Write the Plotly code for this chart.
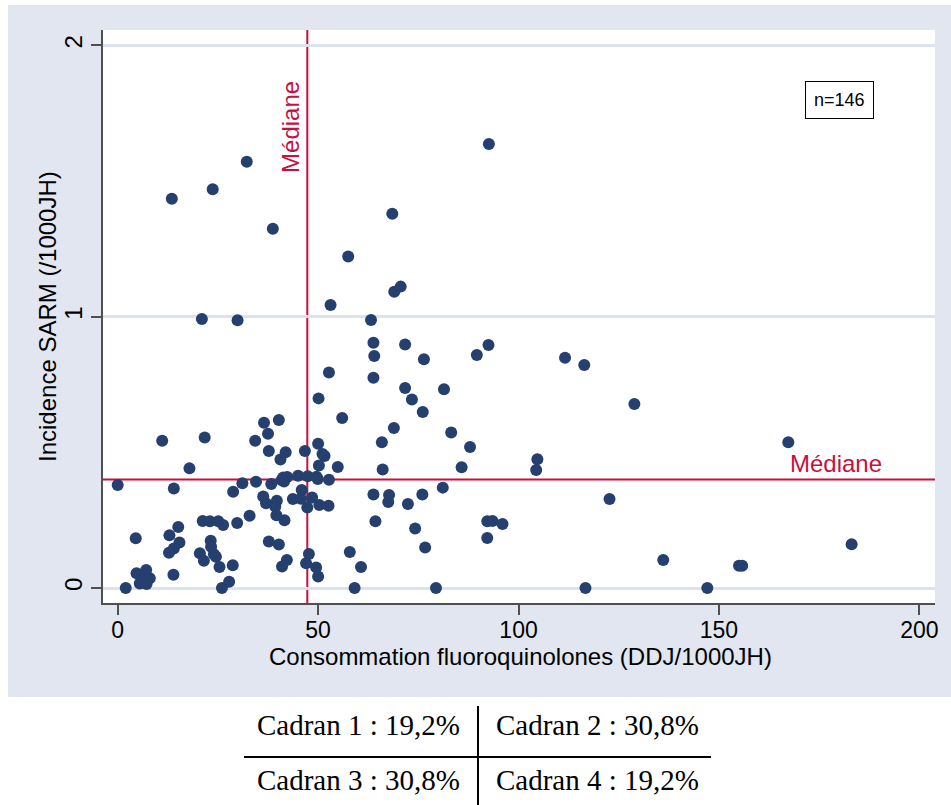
import plotly.graph_objects as go

# ---- data -----------------------------------------------------------------
# Consommation de fluoroquinolones (DDJ/1000JH) et incidence SARM (/1000JH)
consommation = [
    13.5, 23.7, 32.2, 38.7, 68.5, 57.5, 69.0, 70.6, 53.1, 21.0,
    29.9, 63.2, 63.8, 71.7, 64.0, 76.4, 89.6, 92.5, 52.7, 63.8,
    92.6, 111.6, 116.4, 128.9, 167.3, 104.7, 104.4, 71.7, 73.4, 81.4,
    50.1, 56.0, 76.1, 68.9, 83.2, 65.9, 87.9, 85.8, 66.1, 54.9,
    50.0, 46.7, 51.6, 51.1, 50.2, 36.5, 40.2, 37.5, 34.3, 37.7,
    40.6, 41.9, 11.1, 21.7, 17.9, 0.0, 14.0, 28.8, 31.1, 34.5,
    38.3, 40.9, 41.3, 42.3, 45.0, 47.4, 49.6, 49.9, 52.7, 45.9,
    81.1, 63.8, 67.7, 67.5, 76.0, 72.4, 64.3, 74.2, 92.2, 93.5,
    96.0, 92.2, 122.7, 36.3, 37.0, 39.7, 39.3, 43.7, 45.7, 48.5,
    47.3, 50.3, 52.6, 39.6, 41.6, 32.9, 29.8, 21.2, 23.0, 25.1,
    26.3, 15.1, 4.5, 12.9, 15.4, 14.0, 12.8, 23.2, 23.3, 20.5,
    21.5, 24.0, 24.5, 25.4, 28.7, 37.7, 40.2, 41.0, 42.2, 47.7,
    47.0, 49.5, 50.0, 13.9, 2.0, 4.7, 7.1, 8.0, 5.5, 7.2,
    6.1, 26.0, 27.8, 57.9, 60.7, 59.1, 79.4, 76.7, 183.1, 136.1,
    155.0, 155.8, 116.7, 147.1, 41.5, 6.6,
]
incidence = [
    1.435, 1.470, 1.571, 1.324, 1.380, 1.222, 1.092, 1.111, 1.043, 0.992,
    0.987, 0.988, 0.904, 0.898, 0.855, 0.843, 0.859, 0.896, 0.794, 0.775,
    1.637, 0.849, 0.822, 0.678, 0.537, 0.475, 0.435, 0.737, 0.695, 0.733,
    0.699, 0.627, 0.649, 0.590, 0.573, 0.537, 0.520, 0.445, 0.437, 0.446,
    0.532, 0.505, 0.487, 0.494, 0.452, 0.609, 0.619, 0.569, 0.543, 0.505,
    0.474, 0.500, 0.543, 0.555, 0.441, 0.380, 0.367, 0.355, 0.386, 0.392,
    0.383, 0.398, 0.407, 0.409, 0.414, 0.412, 0.410, 0.402, 0.399, 0.361,
    0.370, 0.345, 0.343, 0.317, 0.345, 0.310, 0.246, 0.219, 0.246, 0.247,
    0.236, 0.184, 0.328, 0.337, 0.312, 0.322, 0.300, 0.328, 0.329, 0.334,
    0.297, 0.306, 0.303, 0.268, 0.250, 0.266, 0.240, 0.247, 0.246, 0.246,
    0.232, 0.225, 0.183, 0.194, 0.168, 0.146, 0.130, 0.174, 0.152, 0.128,
    0.100, 0.124, 0.115, 0.077, 0.084, 0.171, 0.160, 0.079, 0.103, 0.125,
    0.091, 0.076, 0.042, 0.049, 0.000, 0.054, 0.066, 0.036, 0.017, 0.015,
    0.029, 0.000, 0.023, 0.133, 0.077, 0.000, 0.000, 0.149, 0.161, 0.103,
    0.082, 0.082, 0.000, 0.000, 0.393, 0.022,
]

median_x = 47.3
median_y = 0.40
x_ticks = [0, 50, 100, 150, 200]
y_ticks = [0, 1, 2]
x_title = "Consommation fluoroquinolones (DDJ/1000JH)"
y_title = "Incidence SARM (/1000JH)"
median_label = "Médiane"
n_label = "n=146"
cadrans = ["Cadran 1 : 19,2%", "Cadran 2 : 30,8%",
           "Cadran 3 : 30,8%", "Cadran 4 : 19,2%"]

# ---- geometry / styling ---------------------------------------------------
W, H = 951, 805
ML, MR, MT, MB = 103, 16, 30, 202
PW, PH = W - ML - MR, H - MT - MB


def px(xp):
    return (xp - ML) / PW


def py(yp):
    return (H - MB - yp) / PH


NAVY = "#253f6e"
RED = "#c8103e"
BG = "#e1e6f0"
GRID = "#dce3ee"
AXIS = "#505050"
SANS = "Liberation Sans, Arial, sans-serif"
SERIF = "Liberation Serif, Times New Roman, serif"

fig = go.Figure()
fig.add_trace(go.Scatter(
    x=consommation, y=incidence, mode="markers",
    marker=dict(color=NAVY, size=12, line=dict(width=0)),
    showlegend=False, hoverinfo="x+y",
))

shapes = [
    # outer graph region and white plot region
    dict(type="rect", xref="paper", yref="paper", x0=px(8), x1=px(951),
         y0=py(697), y1=py(5), fillcolor=BG, line=dict(width=0), layer="below"),
    dict(type="rect", xref="paper", yref="paper", x0=0, x1=1, y0=0, y1=1,
         fillcolor="white", line=dict(width=0), layer="below"),
    # median lines
    dict(type="line", xref="x", yref="paper", x0=median_x, x1=median_x,
         y0=0, y1=1, line=dict(color=RED, width=2), layer="below"),
    dict(type="line", xref="paper", yref="y", x0=0, x1=1,
         y0=median_y, y1=median_y, line=dict(color=RED, width=2), layer="below"),
    # quadrant table rules
    dict(type="line", xref="paper", yref="paper", x0=px(478), x1=px(478),
         y0=py(805), y1=py(706), line=dict(color="black", width=2)),
    dict(type="line", xref="paper", yref="paper", x0=px(244), x1=px(711),
         y0=py(757), y1=py(757), line=dict(color="black", width=2)),
]

annotations = [
    # axis titles
    dict(x=px(520), y=py(656), xref="paper", yref="paper", text=x_title,
         showarrow=False, xanchor="center", yanchor="middle",
         font=dict(family=SANS, size=24, color="black")),
    dict(x=px(47), y=py(317), xref="paper", yref="paper", text=y_title,
         textangle=-90, showarrow=False, xanchor="center", yanchor="middle",
         font=dict(family=SANS, size=24, color="black")),
    # median labels
    dict(x=median_x, y=1.699, xref="x", yref="y", text=median_label,
         textangle=-90, showarrow=False, xanchor="right", yanchor="middle",
         xshift=-2, font=dict(family=SANS, size=24, color=RED)),
    dict(x=191.2, y=median_y, xref="x", yref="y", text=median_label,
         showarrow=False, xanchor="right", yanchor="bottom", yshift=0,
         font=dict(family=SANS, size=24, color=RED)),
    # sample size box
    dict(x=180.0, y=1.799, xref="x", yref="y", text=n_label,
         showarrow=False, xanchor="center", yanchor="middle",
         bordercolor="black", borderwidth=1, borderpad=8, bgcolor="white",
         font=dict(family=SANS, size=18, color="black")),
]
cells = [(462, 725, "right"), (494, 725, "left"),
         (462, 780, "right"), (494, 780, "left")]
for (cx, cy, anchor), txt in zip(cells, cadrans):
    annotations.append(dict(
        x=px(cx), y=py(cy), xref="paper", yref="paper", text=txt,
        showarrow=False, xanchor=anchor, yanchor="middle",
        font=dict(family=SERIF, size=29, color="black")))

fig.update_layout(
    width=W, height=H,
    margin=dict(l=ML, r=MR, t=MT, b=MB, autoexpand=False),
    paper_bgcolor="white", plot_bgcolor="white",
    shapes=shapes, annotations=annotations,
    font=dict(family=SANS, size=24, color="black"),
    xaxis=dict(
        range=[-3.67, 203.9], tickvals=x_ticks, ticktext=[str(v) for v in x_ticks],
        showgrid=False, zeroline=False, showline=True, linecolor=AXIS, linewidth=1.5,
        ticks="outside", ticklen=10, tickwidth=1.5, tickcolor=AXIS,
        ticklabelstandoff=-4,
        tickfont=dict(family=SANS, size=23, color="black"),
        automargin=False,
    ),
    yaxis=dict(
        range=[-0.0553, 2.057], tickvals=y_ticks, ticktext=[str(v) for v in y_ticks],
        tickangle=-90,
        showgrid=True, gridcolor=GRID, gridwidth=3, zeroline=False,
        showline=True, linecolor=AXIS, linewidth=1.5,
        ticks="outside", ticklen=10, tickwidth=1.5, tickcolor=AXIS,
        tickfont=dict(family=SANS, size=24, color="black"),
        automargin=False,
    ),
)

fig.write_html("out.html")
